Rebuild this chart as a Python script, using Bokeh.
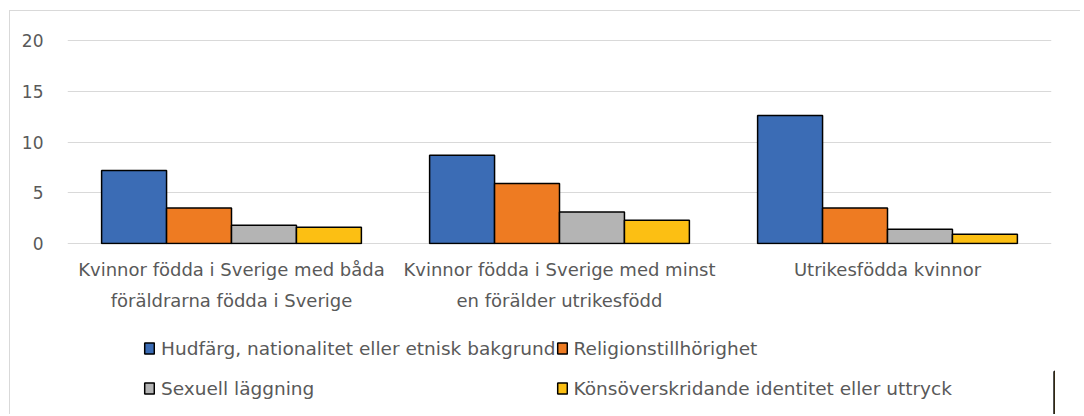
from bokeh.plotting import figure
from bokeh.layouts import column
from bokeh.models import FactorRange, Legend, LegendItem, FixedTicker, ColumnDataSource
from bokeh.transform import dodge
from bokeh.embed import file_html
from bokeh.resources import INLINE

categories = [
    "Kvinnor födda i Sverige med båda\nföräldrarna födda i Sverige",
    "Kvinnor födda i Sverige med minst\nen förälder utrikesfödd",
    "Utrikesfödda kvinnor",
]
series_names = [
    "Hudfärg, nationalitet eller etnisk bakgrund",
    "Religionstillhörighet",
    "Sexuell läggning",
    "Könsöverskridande identitet eller uttryck",
]
hudfarg = [7.2, 8.7, 12.6]
religion = [3.5, 5.9, 3.5]
sexuell = [1.8, 3.1, 1.4]
konsoverskridande = [1.6, 2.3, 0.9]
y_ticks = [0, 5, 10, 15, 20]

colors = ["#3b6cb5", "#ee7b22", "#b4b4b4", "#fcbf13"]

FONT = "DejaVu Sans"
TXT = "#595959"
BORDER = "1px solid #d9d9d9"

src = ColumnDataSource(dict(cat=categories, s0=hudfarg, s1=religion, s2=sexuell, s3=konsoverskridande))

p = figure(
    frame_width=983, frame_height=204,
    x_range=FactorRange(*categories, range_padding=0),
    y_range=(-0.1, 20.1),
    output_backend="svg", toolbar_location=None,
    min_border_left=57, min_border_right=30, min_border_top=28, min_border_bottom=85,
)
p.styles = {"margin-left": "9px", "margin-top": "10px", "border-left": BORDER, "border-top": BORDER}

bw = 0.198
offsets = [-1.5 * bw, -0.5 * bw, 0.5 * bw, 1.5 * bw]
for i, (col, off) in enumerate(zip(colors, offsets)):
    p.vbar(x=dodge("cat", off, range=p.x_range), top=f"s{i}", width=bw, source=src,
           fill_color=col, line_color="black", line_width=1.5)

p.outline_line_color = None
p.xgrid.grid_line_color = None
p.ygrid.grid_line_color = "#d9d9d9"
p.ygrid.grid_line_width = 1
p.ygrid.level = "underlay"
p.yaxis.ticker = FixedTicker(ticks=y_ticks)

for ax in (p.xaxis, p.yaxis):
    ax.axis_line_color = None
    ax.major_tick_line_color = None
    ax.minor_tick_line_color = None
    ax.major_label_text_font = FONT
    ax.major_label_text_color = TXT
p.yaxis.major_label_text_font_size = "17px"
p.xaxis.major_label_text_font_size = "18px"
p.xaxis.major_label_text_line_height = 1.5
p.yaxis.major_label_standoff = 18
p.xaxis.major_label_standoff = 8

# legend panel below the chart
p2 = figure(
    width=1074, height=86, x_range=(0, 1), y_range=(0, 1),
    output_backend="svg", toolbar_location=None,
    x_axis_location=None, y_axis_location=None,
    min_border_left=0, min_border_right=0, min_border_top=0, min_border_bottom=0,
)
p2.styles = {"margin-left": "9px", "border-left": BORDER}
p2.grid.visible = False
p2.outline_line_color = None

# legend proxies: one bar placed outside the visible range, only their legend swatches show
proxy_src = ColumnDataSource(dict(x=[5], top=[0.5]))
proxies = [p2.vbar(x="x", top="top", width=0.1, source=proxy_src,
                   fill_color=col, line_color="black", line_width=1.5) for col in colors]

legend = Legend(
    items=[LegendItem(label=n, renderers=[r]) for n, r in zip(series_names, proxies)],
    location=(76, 6), orientation="horizontal", ncols=2,
    label_text_font=FONT, label_text_font_size="18.5px", label_text_color=TXT,
    glyph_width=12, glyph_height=14, label_height=40, spacing=0, padding=0, margin=0,
    label_standoff=6, border_line_color=None, background_fill_alpha=0,
)
p2.add_layout(legend, "center")

layout = column(p, p2, spacing=0)
open("out.html", "w").write(file_html(layout, INLINE))
